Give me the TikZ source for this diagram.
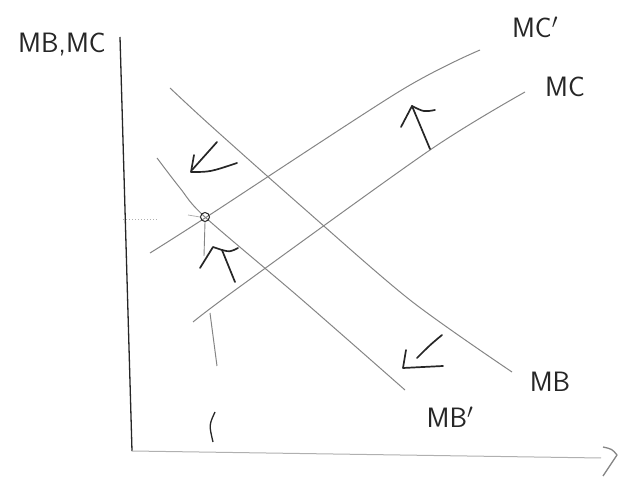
\documentclass[tikz,border=0pt]{standalone}
\usepackage{tikz}
\definecolor{pencil}{HTML}{262626}
\definecolor{lightpen}{HTML}{858585}
\definecolor{faintpen}{HTML}{B0B0B0}
\tikzset{
  curve/.style={lightpen,line width=1pt},
  shiftarrow/.style={pencil,line width=1.7pt,line cap=round,line join=round},
  lbl/.style={pencil,font=\fontsize{28}{30}\selectfont\sffamily,inner sep=0pt}
}

\begin{document}
\begin{tikzpicture}[x=1pt,y=-1pt]
  \useasboundingbox (0,0) rectangle (619,478);
  % axes
  \coordinate (top) at (120,37);
  \coordinate (orig) at (132,451);
  \coordinate (xend) at (601,458);
  \draw[pencil,line width=1.3pt] (top) -- (orig);
  \draw[faintpen,line width=1pt] (orig) -- (xend);
  \draw[lightpen,line width=1.3pt,line join=round] (603,447) .. controls (612,449) .. (617,455) -- (603,476);
  \node[lbl] (lblaxis) at (62,45) {MB,MC};
  % curves
  \draw[curve] plot[smooth] coordinates {(150,253) (205,218) (400,91) (480,50)};
  \draw[curve] plot[smooth] coordinates {(193,322) (238,288) (430,150) (525,92)};
  \draw[curve] plot[smooth] coordinates {(170,88) (210,125) (300,205) (410,300) (512,372)};
  \draw[curve] plot[smooth] coordinates {(157,158) (180,188) (205,217) (300,298) (405,390)};
  \node[lbl] (lblmcp) at (535,27) {MC$'$};
  \node[lbl] (lblmc) at (565,87) {MC};
  \node[lbl] (lblmb) at (550,382) {MB};
  \node[lbl] (lblmbp) at (450,417) {MB$'$};
  % equilibrium
  \node[draw=pencil,circle,minimum size=9pt,inner sep=0pt,line width=1pt] (eq) at (205,217) {};
  \draw[faintpen,line width=1pt,dotted] (123,220) -- (158,220);
  \draw[faintpen,line width=0.8pt] (eq.west) -- ++(-12,-2);
  \draw[lightpen,line width=0.9pt] (eq.south) -- (204,256);
  \draw[lightpen,line width=1pt] (210,313) -- (217,366);
  \draw[pencil,line width=1.3pt] (215,412) .. controls (209,425) .. (213,442);
  % shifts
  \draw[shiftarrow] (217,142) -- (192,170);
  \draw[shiftarrow] (194,155) -- (191,172) .. controls (210,172) .. (237,163);
  \draw[shiftarrow] (200,268) -- (213,247) -- (222,250) -- (235,282);
  \draw[shiftarrow] (222,250) .. controls (230,252) .. (238,248);
  \draw[shiftarrow] (401,127) -- (412,106) -- (430,149);
  \draw[shiftarrow] (412,106) .. controls (424,112) .. (435,110);
  \draw[shiftarrow] (442,335) .. controls (430,345) .. (417,358);
  \draw[shiftarrow] (406,350) -- (403,368) -- (443,366);
\end{tikzpicture}
\end{document}
